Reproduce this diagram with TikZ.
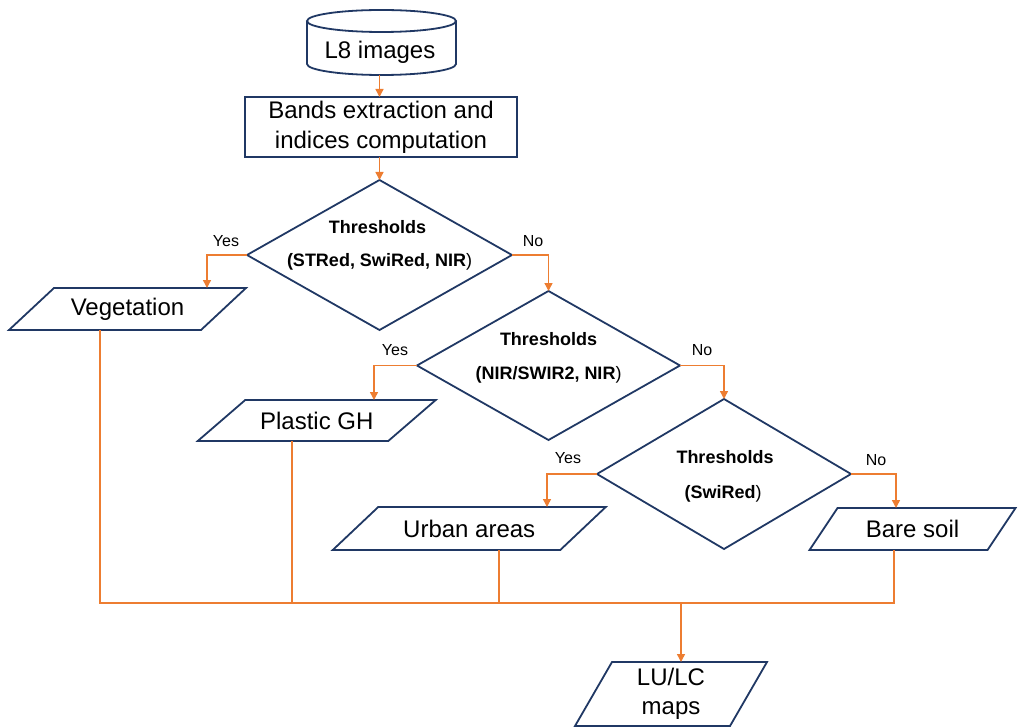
\documentclass[tikz,border=0pt]{standalone}
\usepackage{fontspec}
\setmainfont{Liberation Sans}
\usetikzlibrary{shapes.geometric,arrows.meta}
\definecolor{navy}{RGB}{32,56,100}
\definecolor{flowor}{RGB}{237,125,49}
\tikzset{
  outline/.style={draw=navy,line width=1.8pt},
  bigtext/.style={font=\fontsize{24}{30}\selectfont,text=black},
  process/.style={rectangle,outline,inner sep=0pt,outer sep=0pt,align=center,bigtext},
  decision/.style={diamond,outline,inner sep=0pt,outer sep=0pt},
  iobox/.style={rectangle,draw=none,inner sep=0pt,outer sep=0pt,bigtext},
  dtitle/.style={font=\fontsize{18}{22}\selectfont\bfseries,inner sep=0pt},
  dvars/.style={font=\fontsize{18}{22}\selectfont,inner sep=0pt},
  answer/.style={font=\fontsize{16}{19}\selectfont,inner sep=0pt},
  flowline/.style={draw=flowor,line width=1.4pt},
  flow/.style={flowline,-{Triangle[length=8pt,width=8pt]}}
}
\begin{document}
\begin{tikzpicture}[x=1pt,y=-1pt]
\useasboundingbox (0,0) rectangle (1019,727);

% source data store (cylinder)
\node[iobox,minimum width=149pt,minimum height=65pt] (src) at (381.5,42.5) {};
\draw[outline] ([yshift=-11pt]src.north west) -- ([yshift=11pt]src.south west)
  arc[start angle=180,end angle=360,x radius=74.5pt,y radius=11pt]
  -- ([yshift=-11pt]src.north east);
\draw[outline] ([yshift=-11pt]src.north) ellipse [x radius=74.5pt,y radius=11pt];
\node[bigtext,inner sep=0pt] (srctext) at ([shift={(-1.5,9.5)}]src.center) {L8 images};

% processing step
\node[process,minimum width=272pt,minimum height=60pt] (box) at (381,127)
  {Bands extraction and\\indices computation};

% decisions
\node[decision,minimum width=265pt,minimum height=150pt] (d1) at (379.5,255) {};
\node[dtitle] (d1a) at ([shift={(-2,-28)}]d1.center) {Thresholds};
\node[dvars] (d1b) at ([shift={(0,7)}]d1.center) {\bfseries(STRed, SwiRed, NIR\mdseries)};

\node[decision,minimum width=263pt,minimum height=149pt] (d2) at (548.5,365.5) {};
\node[dtitle] (d2a) at ([shift={(0,-26.5)}]d2.center) {Thresholds};
\node[dvars] (d2b) at ([shift={(0,9.5)}]d2.center) {\bfseries(NIR/SWIR2, NIR\mdseries)};

\node[decision,minimum width=254pt,minimum height=150pt] (d3) at (724,474) {};
\node[dtitle] (d3a) at ([shift={(1,-17)}]d3.center) {Thresholds};
\node[dvars] (d3b) at ([shift={(-1,20)}]d3.center) {\bfseries(SwiRed\mdseries)};

% classes (parallelograms)
\node[iobox,minimum width=192pt,minimum height=42pt] (veg) at (127.5,309) {Vegetation};
\node[iobox,minimum width=190.5pt,minimum height=41pt] (pgh) at (316.75,420.5) {Plastic GH};
\node[iobox,minimum width=227.5pt,minimum height=43pt] (urb) at (469.25,528.5) {Urban areas};
\node[iobox,minimum width=178pt,minimum height=42pt] (bare) at (912.5,529) {Bare soil};
\node[iobox,minimum width=155pt,minimum height=64pt,align=center,
      font=\fontsize{24}{29}\selectfont] (lulc) at (671,694) {LU/LC\\maps};

\foreach \n/\s in {veg/22.5pt,pgh/23.75pt,urb/22.75pt,bare/14pt,lulc/18.5pt}
  \draw[outline] ([xshift=\s]\n.north west) -- ([xshift=\s]\n.north east)
    -- ([xshift=-\s]\n.south east) -- ([xshift=-\s]\n.south west) -- cycle;

% flow connectors
\draw[flow] (d1.north |- src.south) -- (d1.north |- box.north);
\draw[flow] (d1.north |- box.south) -- (d1.north);
\draw[flow] (d1.west) -| ([xshift=79.5pt]veg.north);
\draw[flow] (d1.east) -| (d2.north);
\draw[flow] (d2.west) -| ([xshift=57.25pt]pgh.north);
\draw[flow] (d2.east) -| (d3.north);
\draw[flow] (d3.west) -| ([xshift=77.75pt]urb.north);
\draw[flow] (d3.east) -| ([xshift=-16.5pt]bare.north);

\node[answer] (y1) at ([shift={(-21,-14)}]d1.west) {Yes};
\node[answer] (n1) at ([shift={(21,-14)}]d1.east) {No};
\node[answer] (y2) at ([shift={(-22,-15)}]d2.west) {Yes};
\node[answer] (n2) at ([shift={(22,-15)}]d2.east) {No};
\node[answer] (y3) at ([shift={(-29,-16)}]d3.west) {Yes};
\node[answer] (n3) at ([shift={(25,-14)}]d3.east) {No};

% merging all classes into the final map
\coordinate (merge) at (681,603);
\draw[flowline] ([xshift=-27.5pt]veg.south) |- (merge);
\draw[flowline] ([xshift=-18.5pt]bare.south) |- (merge);
\draw[flowline] ([xshift=-24.75pt]pgh.south) -- ([xshift=-24.75pt]pgh.south |- merge);
\draw[flowline] ([xshift=29.75pt]urb.south) -- ([xshift=29.75pt]urb.south |- merge);
\draw[flow] (merge) -- (merge |- lulc.north);
\end{tikzpicture}
\end{document}
